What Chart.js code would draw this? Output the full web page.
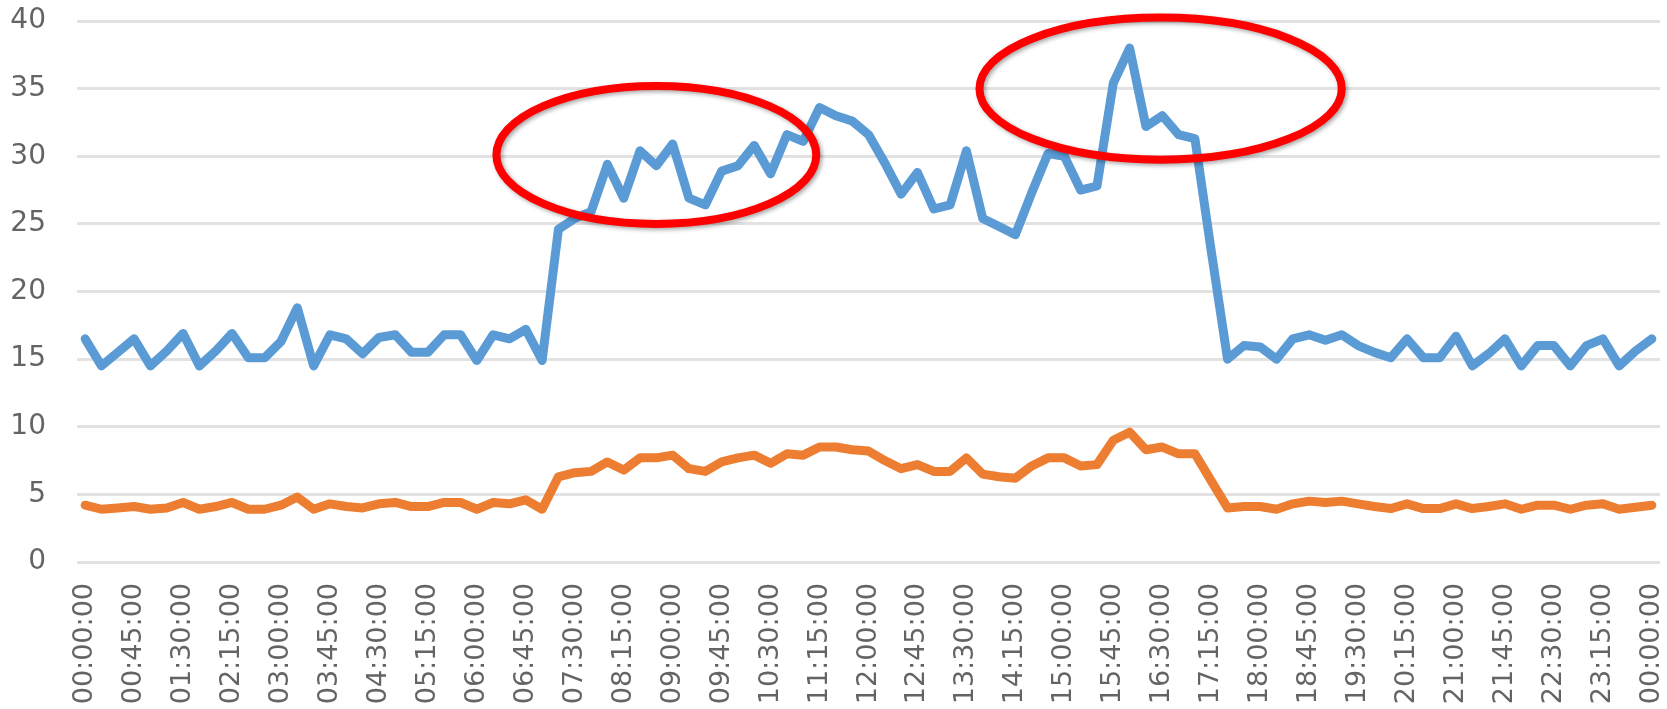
<!DOCTYPE html>
<html>
<head>
<meta charset="utf-8">
<script src="https://cdn.jsdelivr.net/npm/chart.js@4.4.1/dist/chart.umd.min.js"></script>
<style>
  html, body { margin: 0; padding: 0; background: #fff; }
  #wrap { width: 1667px; height: 709px; position: relative; }
</style>
</head>
<body>
<div id="wrap"><canvas id="chart"></canvas></div>
<script>
// ── Data ───────────────────────────────────────────────────────
// 15-minute samples over one day, 00:00:00 to 00:00:00 (97 points)
const categories = [];
for (let m = 0; m <= 24 * 60; m += 15) {
  const h = Math.floor(m / 60) % 24, mm = m % 60;
  categories.push(String(h).padStart(2, '0') + ':' + String(mm).padStart(2, '0') + ':00');
}

const blueSeries = [
  16.5, 14.5, 15.5, 16.5, 14.5, 15.6, 16.9, 14.5, 15.6, 16.9,
  15.1, 15.1, 16.3, 18.8, 14.5, 16.8, 16.5, 15.4, 16.6, 16.8,
  15.5, 15.5, 16.8, 16.8, 14.9, 16.8, 16.5, 17.2, 14.9, 24.6,
  25.4, 25.9, 29.4, 26.9, 30.4, 29.3, 30.9, 26.9, 26.4, 28.9,
  29.3, 30.8, 28.7, 31.6, 31.1, 33.6, 33.0, 32.6, 31.6, 29.5,
  27.2, 28.8, 26.1, 26.4, 30.4, 25.4, 24.8, 24.2, 27.3, 30.2,
  30.0, 27.5, 27.8, 35.4, 38.0, 32.2, 33.0, 31.6, 31.3, 23.0,
  15.0, 16.0, 15.9, 15.0, 16.5, 16.8, 16.4, 16.8, 16.0, 15.5,
  15.1, 16.5, 15.1, 15.1, 16.7, 14.5, 15.4, 16.5, 14.5, 16.0,
  16.0, 14.5, 16.0, 16.5, 14.5, 15.6, 16.5
];

const orangeSeries = [
  4.2, 3.9, 4.0, 4.1, 3.9, 4.0, 4.4, 3.9, 4.1, 4.4,
  3.9, 3.9, 4.2, 4.8, 3.9, 4.3, 4.1, 4.0, 4.3, 4.4,
  4.1, 4.1, 4.4, 4.4, 3.9, 4.4, 4.3, 4.6, 3.9, 6.3,
  6.6, 6.7, 7.4, 6.8, 7.7, 7.7, 7.9, 6.9, 6.7, 7.4,
  7.7, 7.9, 7.3, 8.0, 7.9, 8.5, 8.5, 8.3, 8.2, 7.5,
  6.9, 7.2, 6.7, 6.7, 7.7, 6.5, 6.3, 6.2, 7.1, 7.7,
  7.7, 7.1, 7.2, 9.0, 9.6, 8.3, 8.5, 8.0, 8.0, 6.0,
  4.0, 4.1, 4.1, 3.9, 4.3, 4.5, 4.4, 4.5, 4.3, 4.1,
  3.95, 4.3, 3.95, 3.95, 4.3, 3.95, 4.1, 4.3, 3.9, 4.2,
  4.2, 3.9, 4.2, 4.3, 3.9, 4.05, 4.2
];

const yTicks = [0, 5, 10, 15, 20, 25, 30, 35, 40];
const labelEvery = 3;

// highlight ellipses: centre (category index, value), radii (categories, value units)
const highlights = [
  { cx: 35.0, cy: 30.1, rx: 9.8, ry: 5.1 },
  { cx: 65.9, cy: 35.0, rx: 11.1, ry: 5.25 },
];

// ── Ellipse plugin ─────────────────────────────────────────────
const ellipsePlugin = {
  id: 'ellipses',
  afterDatasetsDraw(chart) {
    const { ctx, scales: { x, y } } = chart;
    const step = x.getPixelForValue(1) - x.getPixelForValue(0);
    ctx.save();
    ctx.strokeStyle = '#ff0000';
    ctx.lineWidth = 8;
    ctx.shadowColor = 'rgba(0,0,0,0.35)';
    ctx.shadowBlur = 4;
    ctx.shadowOffsetX = 2;
    ctx.shadowOffsetY = 2;
    highlights.forEach(h => {
      const px = x.getPixelForValue(h.cx);
      const py = y.getPixelForValue(h.cy);
      const rx = h.rx * step;
      const ry = Math.abs(y.getPixelForValue(h.cy + h.ry) - py);
      ctx.beginPath();
      ctx.ellipse(px, py, rx, ry, 0, 0, Math.PI * 2);
      ctx.stroke();
    });
    ctx.restore();
  }
};

// ── Chart ──────────────────────────────────────────────────────
const tickFont = { family: 'DejaVu Sans', size: 27 };

new Chart(document.getElementById('chart'), {
  type: 'line',
  data: {
    labels: categories,
    datasets: [
      { data: blueSeries, borderColor: '#5B9BD5', borderWidth: 9, pointRadius: 0, tension: 0, borderJoinStyle: 'round', borderCapStyle: 'round' },
      { data: orangeSeries, borderColor: '#ED7D31', borderWidth: 9, pointRadius: 0, tension: 0, borderJoinStyle: 'round', borderCapStyle: 'round' },
    ]
  },
  options: {
    responsive: true,
    maintainAspectRatio: false,
    animation: false,
    layout: { padding: { top: 21, right: 7, left: 0, bottom: 0 } },
    plugins: { legend: { display: false }, tooltip: { enabled: false } },
    scales: {
      x: {
        offset: true,
        grid: { display: false, drawTicks: false },
        border: { display: false },
        afterFit(scale) { scale.height = 147; scale.paddingLeft = 0; scale.paddingRight = 0; },
        ticks: {
          autoSkip: false,
          minRotation: 90,
          maxRotation: 90,
          padding: 21,
          color: '#646464',
          font: tickFont,
          callback(val, i) { return i % labelEvery === 0 ? categories[i] : null; }
        }
      },
      y: {
        min: yTicks[0],
        max: yTicks[yTicks.length - 1],
        afterBuildTicks(scale) { scale.ticks = yTicks.map(v => ({ value: v })); },
        afterFit(scale) { scale.width = 77; scale.paddingTop = 0; scale.paddingBottom = 0; },
        grid: { color: '#e2e2e2', lineWidth: 3, drawTicks: false },
        border: { display: false },
        ticks: { padding: 31, color: '#646464', font: { family: 'DejaVu Sans', size: 28 } }
      }
    }
  },
  plugins: [ellipsePlugin]
});
</script>
</body>
</html>
